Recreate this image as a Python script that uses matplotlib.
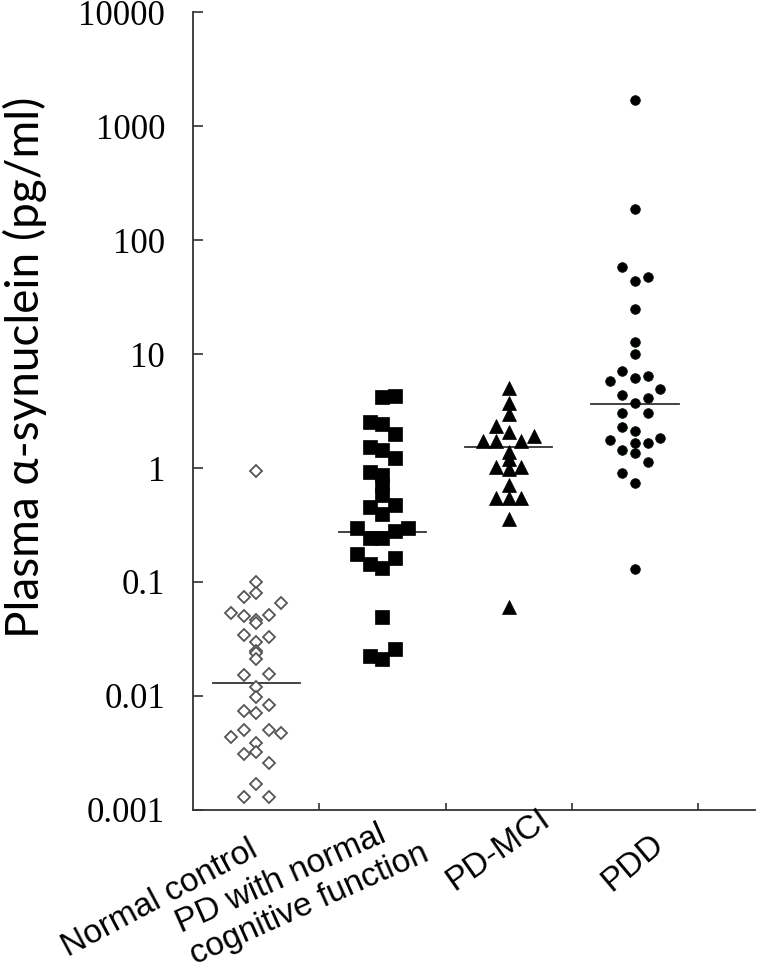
import numpy as np
import matplotlib
matplotlib.use("Agg")
import matplotlib.pyplot as plt
from matplotlib.ticker import FixedLocator, NullFormatter
from matplotlib.transforms import blended_transform_factory

# group labels (x axis)
GROUPS = ["Normal control", "PD with normal\ncognitive function", "PD-MCI", "PDD"]

# plasma alpha-synuclein (pg/ml), with the swarm column of each point
NC_VALS = [0.95, 0.1, 0.074, 0.080, 0.066, 0.053, 0.050, 0.046, 0.044, 0.051, 0.034, 0.033,
           0.030, 0.025, 0.024, 0.021, 0.0153, 0.0156, 0.0121, 0.0098, 0.0084, 0.0074,
           0.0071, 0.0050, 0.0044, 0.0050, 0.0047, 0.0039, 0.0031, 0.0032, 0.0026, 0.0017,
           0.0013, 0.0013]
NC_COLS = [0, 0, -1, 0, 2, -2, -1, 0, 0, 1, -1, 1,
           0, 0, 0, 0, -1, 1, 0, 0, 1, -1,
           0, -1, -2, 1, 2, 0, -1, 0, 1, 0,
           -1, 1]

PDN_VALS = [4.2, 4.3, 2.53, 2.43, 1.99, 1.53, 1.44, 1.22, 0.92, 0.87, 0.71, 0.58, 0.455,
            0.47, 0.395, 0.30, 0.243, 0.243, 0.28, 0.30, 0.176, 0.143, 0.133, 0.163,
            0.049, 0.0225, 0.021, 0.026]
PDN_COLS = [0, 1, -1, 0, 1, -1, 0, 1, -1, 0, 0, 0, -1,
            1, 0, -2, -1, 0, 1, 2, -2, -1, 0, 1,
            0, -1, 0, 1]

MCI_VALS = [5.04, 3.71, 2.97, 2.33, 2.07, 1.72, 1.72, 1.72, 1.91, 1.38, 1.2, 1.02, 0.98,
            1.02, 0.71, 0.545, 0.545, 0.545, 0.357, 0.06]
MCI_COLS = [0, 0, 0, -1, 0, -2, -1, 1, 2, 0, 0, -1, 0,
            1, 0, -1, 0, 1, 0, 0]

PDD_VALS = [1690, 187, 58, 43.7, 47.3, 24.8, 12.7, 10, 7.1, 5.8, 6.2, 6.4, 4.93, 4.37, 4.1,
            3.7, 3.04, 3.04, 2.29, 2.11, 1.76, 1.66, 1.66, 1.83, 1.44, 1.35, 1.13, 0.90,
            0.74, 0.13]
PDD_COLS = [0, 0, -1, 0, 1, 0, 0, 0, -1, -2, 0, 1, 2, -1, 1,
            0, -1, 1, -1, 0, -2, 0, 1, 2, -1, 0, 1, -1,
            0, 0]

MEDIANS = [0.013, 0.275, 1.53, 3.64]

YTICKS = [0.001, 0.01, 0.1, 1, 10, 100, 1000, 10000]
YTICKLABELS = ["0.001", "0.01", "0.1", "1", "10", "100", "1000", "10000"]

STEP = 0.1  # swarm column spacing (category width = 1)
# group labels are hand-placed text boxes in the original: top-right corner + angle
LABEL_DX = [-0.06, 0.19, 0.232, 0.118]
LABEL_Y = [-0.03, 0.005, 0.009, -0.023]
LABEL_ROT = [28, 24, 35, 40]

fig = plt.figure(figsize=(7.62, 9.74), dpi=100)
ax = fig.add_axes([193 / 762, 164 / 974, 562 / 762, 798 / 974])

series = [
    (NC_VALS, NC_COLS, dict(marker="D", ms=6.3, mfc="white", mec="#555555", mew=1.3)),
    (PDN_VALS, PDN_COLS, dict(marker="s", ms=9.5, mfc="black", mec="black", mew=0.5)),
    (MCI_VALS, MCI_COLS, dict(marker="^", ms=10.5, mfc="black", mec="black", mew=0.5)),
    (PDD_VALS, PDD_COLS, dict(marker="o", ms=7.0, mfc="black", mec="#0a1a0a", mew=0.5)),
]
for i, (vals, cols, style) in enumerate(series):
    x = i + 0.5 + STEP * np.array(cols)
    ax.plot(x, vals, ls="none", **style, zorder=3)
    ax.plot([i + 0.5 - 0.345, i + 0.5 + 0.345], [MEDIANS[i], MEDIANS[i]],
            color="#333333", lw=1.3, zorder=2)

ax.set_yscale("log")
ax.set_ylim(0.001, 10000)
ax.set_xlim(0, 4.45)

ax.yaxis.set_major_locator(FixedLocator(YTICKS))
ax.yaxis.set_minor_locator(FixedLocator([]))
ax.set_yticklabels(YTICKLABELS, family="Liberation Serif", fontsize=25)
ax.tick_params(axis="y", direction="in", length=7, width=1.2, color="#333333", pad=20)

ax.set_xticks([])
ax.xaxis.set_minor_locator(FixedLocator([1, 2, 3, 4]))
ax.xaxis.set_minor_formatter(NullFormatter())
ax.tick_params(axis="x", which="minor", direction="in", length=5, width=1.2, color="#333333")

trans = blended_transform_factory(ax.transData, ax.transAxes)
for i, name in enumerate(GROUPS):
    ax.text(i + 0.5 + LABEL_DX[i], LABEL_Y[i], name, transform=trans, rotation=LABEL_ROT[i],
            ha="right", va="top", rotation_mode="anchor", multialignment="left",
            family="Liberation Sans", fontsize=24, linespacing=1.15)

for s in ["top", "right"]:
    ax.spines[s].set_visible(False)
for s in ["left", "bottom"]:
    ax.spines[s].set_color("#333333")
    ax.spines[s].set_linewidth(1.3)

fig.text(25 / 762, 1 - 367 / 974, "Plasma \u03b1-synuclein (pg/ml)", rotation=90,
         ha="center", va="center", family="Lato", fontsize=33)

fig.savefig("out.png", dpi=100)
